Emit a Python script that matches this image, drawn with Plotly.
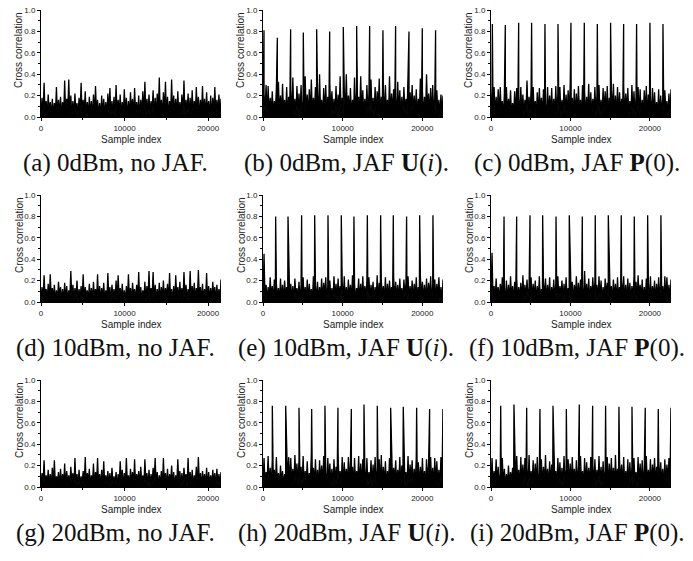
import numpy as np
import plotly.graph_objects as go

# ---------------- data ----------------
# record lengths (sample index at right end of each panel)
x_end = {"a": 21550, "b": 22600, "c": 22650,
         "d": 21550, "e": 22600, "f": 22650,
         "g": 21550, "h": 22600, "i": 22650}

# noise: local maxima (hi) and minima (lo), evenly spread over the record
hi_a = [0.18,0.32,0.15,0.21,0.14,0.17,0.13,0.28,0.16,0.19,
        0.14,0.34,0.17,0.35,0.20,0.15,0.22,0.13,0.18,0.32,
        0.16,0.24,0.14,0.19,0.15,0.21,0.29,0.16,0.13,0.20,
        0.17,0.14,0.22,0.27,0.15,0.19,0.30,0.16,0.21,0.14,
        0.26,0.18,0.15,0.23,0.17,0.27,0.14,0.20,0.16,0.24,
        0.33,0.17,0.21,0.15,0.25,0.18,0.22,0.37,0.16,0.23,
        0.33,0.19,0.15,0.35,0.20,0.17,0.24,0.14,0.21,0.34,
        0.16,0.22,0.18,0.25,0.15,0.28,0.19,0.16,0.29,0.17,
        0.23,0.15,0.20,0.18,0.28,0.16,0.21,0.17]
lo_a = [0.01,0.00,0.02,0.01,0.04,0.00,0.01,0.02,0.00,0.03,
        0.01,0.00,0.02,0.05,0.01,0.00,0.01,0.03,0.00,0.02,
        0.01,0.04,0.00,0.01,0.02,0.00,0.01,0.03,0.01,0.00,
        0.02,0.01,0.00,0.04,0.01,0.02,0.00,0.01,0.03,0.00,
        0.01,0.02,0.00,0.01,0.05,0.00,0.02,0.01,0.00,0.03,
        0.01,0.00,0.02,0.01,0.04,0.00,0.01,0.02,0.00,0.01,
        0.03,0.00,0.01,0.02,0.00,0.04,0.01,0.00,0.02,0.01,
        0.00,0.03,0.01,0.02,0.00,0.01,0.04,0.00,0.01,0.02,
        0.00,0.03,0.01,0.00,0.02,0.01,0.04,0.00]

hi_b = [0.22,0.30,0.29,0.18,0.24,0.15,0.27,0.33,0.20,0.31,
        0.16,0.28,0.19,0.25,0.37,0.17,0.29,0.22,0.30,0.15,
        0.38,0.21,0.26,0.35,0.18,0.28,0.23,0.40,0.16,0.27,
        0.30,0.19,0.31,0.24,0.17,0.29,0.21,0.38,0.18,0.26,
        0.40,0.20,0.27,0.16,0.37,0.23,0.19,0.38,0.25,0.17,
        0.30,0.22,0.35,0.18,0.28,0.24,0.36,0.19,0.27,0.30,
        0.16,0.38,0.22,0.26,0.18,0.33,0.25,0.19,0.28,0.17,
        0.40,0.23,0.30,0.20,0.26,0.17,0.36,0.24,0.19,0.40,
        0.22,0.27,0.30,0.18,0.25,0.16,0.21,0.20]
lo_b = [0.02,0.05,0.01,0.00,0.03,0.01,0.04,0.00,0.02,0.01,
        0.03,0.00,0.01,0.05,0.02,0.00,0.01,0.03,0.00,0.02,
        0.04,0.01,0.00,0.02,0.01,0.05,0.00,0.01,0.03,0.00,
        0.02,0.01,0.04,0.00,0.01,0.02,0.00,0.03,0.01,0.00,
        0.05,0.01,0.02,0.00,0.01,0.03,0.00,0.02,0.04,0.01,
        0.00,0.02,0.01,0.03,0.00,0.01,0.05,0.00,0.02,0.01,
        0.03,0.00,0.01,0.04,0.02,0.00,0.01,0.02,0.00,0.03,
        0.01,0.00,0.04,0.01,0.02,0.00,0.03,0.01,0.00,0.02,
        0.05,0.01,0.00,0.02,0.01,0.03,0.00,0.02]

hi_c = [0.27,0.28,0.19,0.26,0.28,0.15,0.22,0.28,0.17,0.25,
        0.13,0.24,0.27,0.18,0.28,0.21,0.16,0.34,0.19,0.27,
        0.28,0.15,0.23,0.27,0.18,0.26,0.12,0.28,0.20,0.27,
        0.17,0.29,0.22,0.28,0.16,0.30,0.21,0.25,0.31,0.18,
        0.26,0.22,0.29,0.16,0.30,0.24,0.19,0.31,0.23,0.17,
        0.28,0.21,0.30,0.16,0.27,0.24,0.29,0.18,0.26,0.31,
        0.20,0.28,0.23,0.17,0.29,0.22,0.27,0.15,0.30,0.24,
        0.19,0.28,0.26,0.16,0.25,0.29,0.21,0.17,0.27,0.23,
        0.14,0.26,0.20,0.18,0.25,0.15,0.22,0.26]
lo_c = [0.01,0.03,0.00,0.02,0.01,0.04,0.00,0.01,0.02,0.05,
        0.00,0.01,0.03,0.00,0.02,0.01,0.00,0.04,0.01,0.02,
        0.00,0.03,0.01,0.00,0.05,0.01,0.02,0.00,0.01,0.03,
        0.00,0.02,0.01,0.04,0.00,0.01,0.02,0.00,0.03,0.01,
        0.02,0.00,0.01,0.05,0.00,0.02,0.01,0.03,0.00,0.01,
        0.04,0.00,0.02,0.01,0.00,0.03,0.01,0.02,0.00,0.04,
        0.01,0.00,0.02,0.03,0.00,0.01,0.05,0.00,0.01,0.02,
        0.00,0.03,0.01,0.00,0.02,0.04,0.00,0.01,0.02,0.00,
        0.03,0.01,0.00,0.02,0.01,0.04,0.00,0.01]

hi_d = [0.14,0.25,0.12,0.17,0.26,0.13,0.16,0.11,0.19,0.14,
        0.12,0.18,0.15,0.11,0.29,0.16,0.13,0.20,0.12,0.15,
        0.26,0.14,0.11,0.17,0.13,0.19,0.12,0.26,0.15,0.13,
        0.18,0.11,0.27,0.14,0.16,0.12,0.20,0.25,0.13,0.17,
        0.11,0.15,0.26,0.13,0.18,0.12,0.16,0.28,0.14,0.11,
        0.19,0.15,0.29,0.13,0.28,0.16,0.12,0.18,0.14,0.20,
        0.13,0.17,0.27,0.12,0.15,0.25,0.14,0.19,0.13,0.28,
        0.16,0.12,0.29,0.15,0.18,0.13,0.30,0.14,0.17,0.12,
        0.27,0.15,0.13,0.19,0.14,0.16,0.12,0.21]
lo_d = [0.02,0.00,0.04,0.01,0.00,0.02,0.03,0.00,0.01,0.05,
        0.01,0.00,0.02,0.01,0.04,0.00,0.01,0.03,0.00,0.02,
        0.01,0.00,0.05,0.01,0.02,0.00,0.03,0.01,0.00,0.02,
        0.04,0.00,0.01,0.02,0.00,0.03,0.01,0.00,0.04,0.01,
        0.02,0.00,0.01,0.03,0.00,0.05,0.01,0.02,0.00,0.01,
        0.03,0.00,0.02,0.01,0.04,0.00,0.01,0.02,0.00,0.03,
        0.01,0.05,0.00,0.02,0.01,0.00,0.03,0.01,0.02,0.00,
        0.04,0.01,0.00,0.02,0.03,0.00,0.01,0.04,0.00,0.02,
        0.01,0.00,0.03,0.01,0.05,0.00,0.02,0.01]

hi_e = [0.45,0.16,0.14,0.23,0.15,0.21,0.18,0.13,0.22,0.16,
        0.20,0.14,0.24,0.17,0.15,0.22,0.13,0.19,0.16,0.23,
        0.14,0.21,0.17,0.12,0.24,0.16,0.19,0.14,0.22,0.18,
        0.23,0.15,0.20,0.13,0.24,0.17,0.22,0.15,0.19,0.24,
        0.14,0.21,0.16,0.25,0.18,0.13,0.22,0.17,0.24,0.15,
        0.20,0.23,0.16,0.19,0.14,0.25,0.18,0.21,0.15,0.23,
        0.17,0.20,0.14,0.24,0.19,0.16,0.22,0.13,0.21,0.18,
        0.24,0.15,0.20,0.17,0.23,0.14,0.25,0.19,0.16,0.22,
        0.18,0.24,0.15,0.21,0.17,0.23,0.14,0.21]
lo_e = [0.03,0.01,0.00,0.02,0.04,0.00,0.01,0.03,0.00,0.02,
        0.01,0.05,0.00,0.01,0.02,0.00,0.04,0.01,0.00,0.03,
        0.02,0.00,0.01,0.04,0.00,0.02,0.01,0.00,0.03,0.01,
        0.05,0.00,0.02,0.01,0.00,0.03,0.01,0.04,0.00,0.02,
        0.01,0.00,0.03,0.01,0.02,0.00,0.05,0.01,0.00,0.02,
        0.03,0.00,0.01,0.04,0.00,0.01,0.02,0.00,0.03,0.01,
        0.00,0.02,0.04,0.00,0.01,0.03,0.00,0.02,0.01,0.05,
        0.00,0.01,0.02,0.00,0.03,0.01,0.00,0.04,0.02,0.00,
        0.01,0.03,0.00,0.02,0.01,0.04,0.00,0.01]

hi_f = [0.46,0.15,0.22,0.14,0.17,0.23,0.13,0.20,0.16,0.24,
        0.15,0.19,0.22,0.14,0.18,0.25,0.16,0.21,0.13,0.23,
        0.17,0.20,0.15,0.24,0.12,0.19,0.22,0.16,0.23,0.14,
        0.21,0.18,0.24,0.15,0.20,0.17,0.23,0.13,0.22,0.19,
        0.16,0.24,0.18,0.21,0.14,0.29,0.17,0.22,0.15,0.23,
        0.19,0.16,0.24,0.20,0.14,0.22,0.18,0.25,0.15,0.21,
        0.17,0.23,0.14,0.20,0.24,0.16,0.22,0.18,0.15,0.23,
        0.19,0.25,0.16,0.21,0.14,0.22,0.18,0.24,0.15,0.20,
        0.17,0.23,0.19,0.15,0.24,0.23,0.16,0.21]
lo_f = [0.02,0.00,0.01,0.03,0.00,0.05,0.01,0.02,0.00,0.01,
        0.04,0.00,0.02,0.01,0.03,0.00,0.01,0.02,0.05,0.00,
        0.01,0.03,0.00,0.02,0.01,0.00,0.04,0.01,0.02,0.00,
        0.03,0.01,0.00,0.02,0.05,0.00,0.01,0.03,0.00,0.02,
        0.01,0.04,0.00,0.01,0.02,0.00,0.03,0.01,0.00,0.04,
        0.02,0.00,0.01,0.03,0.01,0.00,0.05,0.02,0.00,0.01,
        0.03,0.00,0.02,0.01,0.04,0.00,0.01,0.02,0.00,0.03,
        0.01,0.00,0.05,0.02,0.00,0.01,0.03,0.00,0.01,0.04,
        0.00,0.02,0.01,0.03,0.00,0.01,0.02,0.00]

hi_g = [0.13,0.25,0.11,0.16,0.12,0.18,0.25,0.10,0.14,0.17,
        0.12,0.22,0.15,0.11,0.19,0.13,0.27,0.12,0.16,0.10,
        0.15,0.28,0.13,0.17,0.11,0.22,0.14,0.27,0.12,0.16,
        0.24,0.11,0.15,0.13,0.18,0.10,0.14,0.12,0.24,0.16,
        0.13,0.27,0.11,0.17,0.14,0.26,0.12,0.15,0.19,0.11,
        0.26,0.13,0.16,0.12,0.18,0.27,0.14,0.11,0.15,0.27,
        0.13,0.17,0.12,0.20,0.14,0.11,0.26,0.15,0.13,0.18,
        0.12,0.27,0.14,0.16,0.11,0.19,0.28,0.13,0.15,0.12,
        0.18,0.14,0.11,0.16,0.13,0.17,0.12,0.14]
lo_g = [0.01,0.04,0.00,0.02,0.01,0.00,0.03,0.01,0.05,0.00,
        0.02,0.01,0.00,0.03,0.01,0.04,0.00,0.02,0.01,0.00,
        0.03,0.00,0.01,0.05,0.00,0.02,0.01,0.03,0.00,0.01,
        0.02,0.00,0.04,0.01,0.00,0.02,0.03,0.00,0.01,0.05,
        0.00,0.01,0.02,0.00,0.03,0.01,0.00,0.04,0.01,0.02,
        0.00,0.03,0.01,0.00,0.02,0.05,0.00,0.01,0.03,0.00,
        0.02,0.01,0.00,0.04,0.01,0.00,0.02,0.03,0.00,0.01,
        0.05,0.00,0.02,0.01,0.00,0.03,0.01,0.02,0.00,0.04,
        0.01,0.00,0.02,0.01,0.03,0.00,0.01,0.02]

hi_h = [0.27,0.14,0.29,0.18,0.25,0.16,0.28,0.13,0.20,0.15,
        0.12,0.19,0.28,0.27,0.17,0.30,0.22,0.26,0.19,0.29,
        0.15,0.24,0.13,0.31,0.18,0.26,0.16,0.25,0.20,0.29,
        0.14,0.27,0.22,0.17,0.26,0.19,0.31,0.15,0.28,0.23,
        0.17,0.28,0.24,0.19,0.27,0.15,0.29,0.22,0.26,0.18,
        0.27,0.14,0.25,0.21,0.28,0.17,0.26,0.30,0.19,0.24,
        0.15,0.27,0.22,0.18,0.25,0.16,0.28,0.20,0.26,0.14,
        0.29,0.21,0.25,0.17,0.28,0.23,0.19,0.27,0.15,0.26,
        0.22,0.28,0.18,0.27,0.24,0.16,0.28,0.26]
lo_h = [0.00,0.02,0.05,0.01,0.00,0.03,0.01,0.02,0.00,0.04,
        0.01,0.00,0.02,0.03,0.00,0.01,0.05,0.00,0.02,0.01,
        0.00,0.03,0.01,0.04,0.00,0.02,0.01,0.00,0.03,0.01,
        0.02,0.00,0.05,0.01,0.00,0.02,0.01,0.03,0.00,0.01,
        0.04,0.00,0.02,0.01,0.00,0.03,0.02,0.00,0.01,0.05,
        0.00,0.01,0.03,0.00,0.02,0.01,0.04,0.00,0.01,0.02,
        0.00,0.03,0.01,0.00,0.05,0.01,0.02,0.00,0.03,0.01,
        0.00,0.02,0.04,0.00,0.01,0.02,0.00,0.03,0.01,0.00,
        0.04,0.01,0.02,0.00,0.03,0.01,0.00,0.02]

hi_i = [0.27,0.15,0.26,0.19,0.13,0.27,0.17,0.12,0.20,0.14,
        0.18,0.26,0.29,0.16,0.28,0.21,0.27,0.18,0.30,0.15,
        0.25,0.22,0.28,0.14,0.26,0.19,0.30,0.17,0.24,0.21,
        0.28,0.15,0.27,0.23,0.18,0.29,0.16,0.26,0.22,0.28,
        0.17,0.25,0.20,0.29,0.15,0.27,0.23,0.18,0.28,0.21,
        0.26,0.16,0.29,0.19,0.24,0.15,0.28,0.22,0.27,0.18,
        0.30,0.17,0.25,0.21,0.28,0.15,0.26,0.23,0.19,0.27,
        0.14,0.28,0.22,0.25,0.18,0.29,0.16,0.26,0.21,0.27,
        0.19,0.28,0.23,0.17,0.26,0.21,0.27,0.24]
lo_i = [0.01,0.00,0.03,0.02,0.00,0.04,0.01,0.00,0.02,0.01,
        0.05,0.00,0.01,0.03,0.00,0.02,0.01,0.04,0.00,0.01,
        0.02,0.00,0.03,0.01,0.05,0.00,0.02,0.01,0.00,0.03,
        0.01,0.04,0.00,0.02,0.01,0.00,0.03,0.01,0.02,0.00,
        0.04,0.01,0.00,0.02,0.03,0.00,0.01,0.05,0.00,0.02,
        0.01,0.00,0.03,0.01,0.00,0.04,0.02,0.00,0.01,0.03,
        0.00,0.02,0.01,0.05,0.00,0.01,0.02,0.00,0.03,0.01,
        0.04,0.00,0.02,0.01,0.00,0.03,0.01,0.02,0.00,0.05,
        0.01,0.00,0.02,0.03,0.00,0.01,0.04,0.00]

# correlation peaks (sample index, height)
peak_x_b = [125,1800,3470,5060,6740,8370,10080,11760,13390,15060,16650,18330,20000,21670]
peak_y_b = [0.81,0.74,0.82,0.79,0.82,0.80,0.84,0.85,0.85,0.81,0.85,0.80,0.83,0.81]
peak_x_c = [170,1800,3480,5110,6790,8430,10060,11740,13380,15050,16690,18320,20000,21640]
peak_y_c = [0.87,0.86,0.88,0.88,0.87,0.87,0.88,0.88,0.87,0.88,0.87,0.87,0.88,0.87]
peak_x_e = [1590,3140,4850,6490,8160,9830,11420,13100,14770,16360,18030,19670,21340]
peak_y_e = [0.80,0.80,0.81,0.81,0.81,0.81,0.80,0.81,0.81,0.81,0.80,0.81,0.81]
peak_x_f = [1640,3230,4910,6500,8180,9850,11490,13120,14760,16390,18030,19710,21380]
peak_y_f = [0.80,0.80,0.81,0.81,0.80,0.81,0.80,0.81,0.81,0.81,0.80,0.81,0.81]
peak_x_h = [1170,2850,4520,6110,7780,9410,11090,12680,14350,16030,17610,19290,20920,22590]
peak_y_h = [0.76,0.76,0.74,0.73,0.76,0.74,0.73,0.77,0.76,0.74,0.75,0.74,0.73,0.73]
peak_x_i = [1220,2890,4490,6160,7800,9480,11110,12790,14420,16100,17740,19410,21050,22640]
peak_y_i = [0.76,0.77,0.74,0.73,0.76,0.73,0.77,0.76,0.76,0.75,0.75,0.74,0.73,0.74]

captions = {
    "a": "(a) 0dBm, no JAF.",
    "b": "(b) 0dBm, JAF <b>U</b>(<i>i</i>).",
    "c": "(c) 0dBm, JAF <b>P</b>(0).",
    "d": "(d) 10dBm, no JAF.",
    "e": "(e) 10dBm, JAF <b>U</b>(<i>i</i>).",
    "f": "(f) 10dBm, JAF <b>P</b>(0).",
    "g": "(g) 20dBm, no JAF.",
    "h": "(h) 20dBm, JAF <b>U</b>(<i>i</i>).",
    "i": "(i) 20dBm, JAF <b>P</b>(0).",
}
x_ticks = [0, 10000, 20000]
y_ticks = [0.0, 0.2, 0.4, 0.6, 0.8, 1.0]

hi = dict(a=hi_a, b=hi_b, c=hi_c, d=hi_d, e=hi_e, f=hi_f, g=hi_g, h=hi_h, i=hi_i)
lo = dict(a=lo_a, b=lo_b, c=lo_c, d=lo_d, e=lo_e, f=lo_f, g=lo_g, h=lo_h, i=lo_i)
peaks = dict(a=([], []), b=(peak_x_b, peak_y_b), c=(peak_x_c, peak_y_c),
             d=([], []), e=(peak_x_e, peak_y_e), f=(peak_x_f, peak_y_f),
             g=([], []), h=(peak_x_h, peak_y_h), i=(peak_x_i, peak_y_i))

# ---------------- layout ----------------
W, H = 693, 561
col_px = [(41, 221), (263, 443), (491, 671)]
row_px = [(10, 117), (195, 302), (380, 487)]
cap_cx = [115, 346, 577]
keys = ["a", "b", "c", "d", "e", "f", "g", "h", "i"]

fig = go.Figure()
tick_font = dict(family="Liberation Sans, Arial, sans-serif", size=8, color="#222")
title_font = dict(family="Liberation Sans, Arial, sans-serif", size=10, color="#222")
cap_font = dict(family="Liberation Serif, Times New Roman, serif", size=25, color="#111")

annotations = []
for k, key in enumerate(keys):
    r, c = divmod(k, 3)
    n = k + 1
    xs = "" if n == 1 else str(n)
    vals = np.empty(2 * len(hi[key]))
    vals[0::2] = lo[key]
    vals[1::2] = hi[key]
    xv = np.linspace(0, x_end[key], len(vals))
    px, py = peaks[key]
    X = np.concatenate([xv, np.array(px, dtype=float)])
    Y = np.concatenate([vals, np.array(py, dtype=float)])
    order = np.argsort(X, kind="stable")
    fig.add_trace(go.Scatter(x=X[order], y=Y[order], mode="lines",
                             line=dict(color="black", width=1.3),
                             fill="tozeroy", fillcolor="black",
                             xaxis="x" + xs, yaxis="y" + xs, showlegend=False,
                             hoverinfo="skip"))
    x0, x1 = col_px[c]
    y0, y1 = row_px[r]
    xdom = [x0 / W, x1 / W]
    ydom = [1 - y1 / H, 1 - y0 / H]
    fig.layout["xaxis" + xs] = dict(
        domain=xdom, anchor="y" + xs, range=[0, x_end[key]], automargin=False,
        tickvals=x_ticks, ticktext=[str(t) for t in x_ticks],
        ticks="outside", ticklen=3, tickwidth=1, tickcolor="black",
        minor=dict(dtick=5000, tick0=0, ticks="outside", ticklen=2, tickcolor="black"),
        showline=True, linecolor="black", linewidth=1,
        showgrid=False, zeroline=False, tickfont=tick_font)
    fig.layout["yaxis" + xs] = dict(
        domain=ydom, anchor="x" + xs, range=[0, 1.0], automargin=False,
        tickvals=y_ticks, ticktext=["%.1f" % t for t in y_ticks],
        ticks="outside", ticklen=3, tickwidth=1, tickcolor="black",
        minor=dict(dtick=0.1, tick0=0, ticks="outside", ticklen=2, tickcolor="black"),
        showline=True, linecolor="black", linewidth=1,
        showgrid=False, zeroline=False, tickfont=tick_font)
    annotations.append(dict(text="Cross correlation", textangle=-90,
                            x=(x0 - 22) / W, y=1 - (y0 + 40) / H,
                            xref="paper", yref="paper", showarrow=False,
                            font=title_font, xanchor="center", yanchor="middle"))
    annotations.append(dict(text="Sample index",
                            x=(x0 + x1) / 2 / W, y=1 - (y1 + 22) / H,
                            xref="paper", yref="paper", showarrow=False,
                            font=title_font, xanchor="center", yanchor="middle"))
    annotations.append(dict(text=captions[key],
                            x=cap_cx[c] / W, y=1 - (y1 + 46) / H,
                            xref="paper", yref="paper", showarrow=False,
                            font=cap_font, xanchor="center", yanchor="middle"))

fig.update_layout(width=W, height=H, margin=dict(l=0, r=0, t=0, b=0, autoexpand=False),
                  paper_bgcolor="white", plot_bgcolor="white",
                  annotations=annotations)

fig.write_html("out.html", config={"displayModeBar": False},
               post_script="document.body.style.margin='0';document.body.style.overflow='hidden';")
